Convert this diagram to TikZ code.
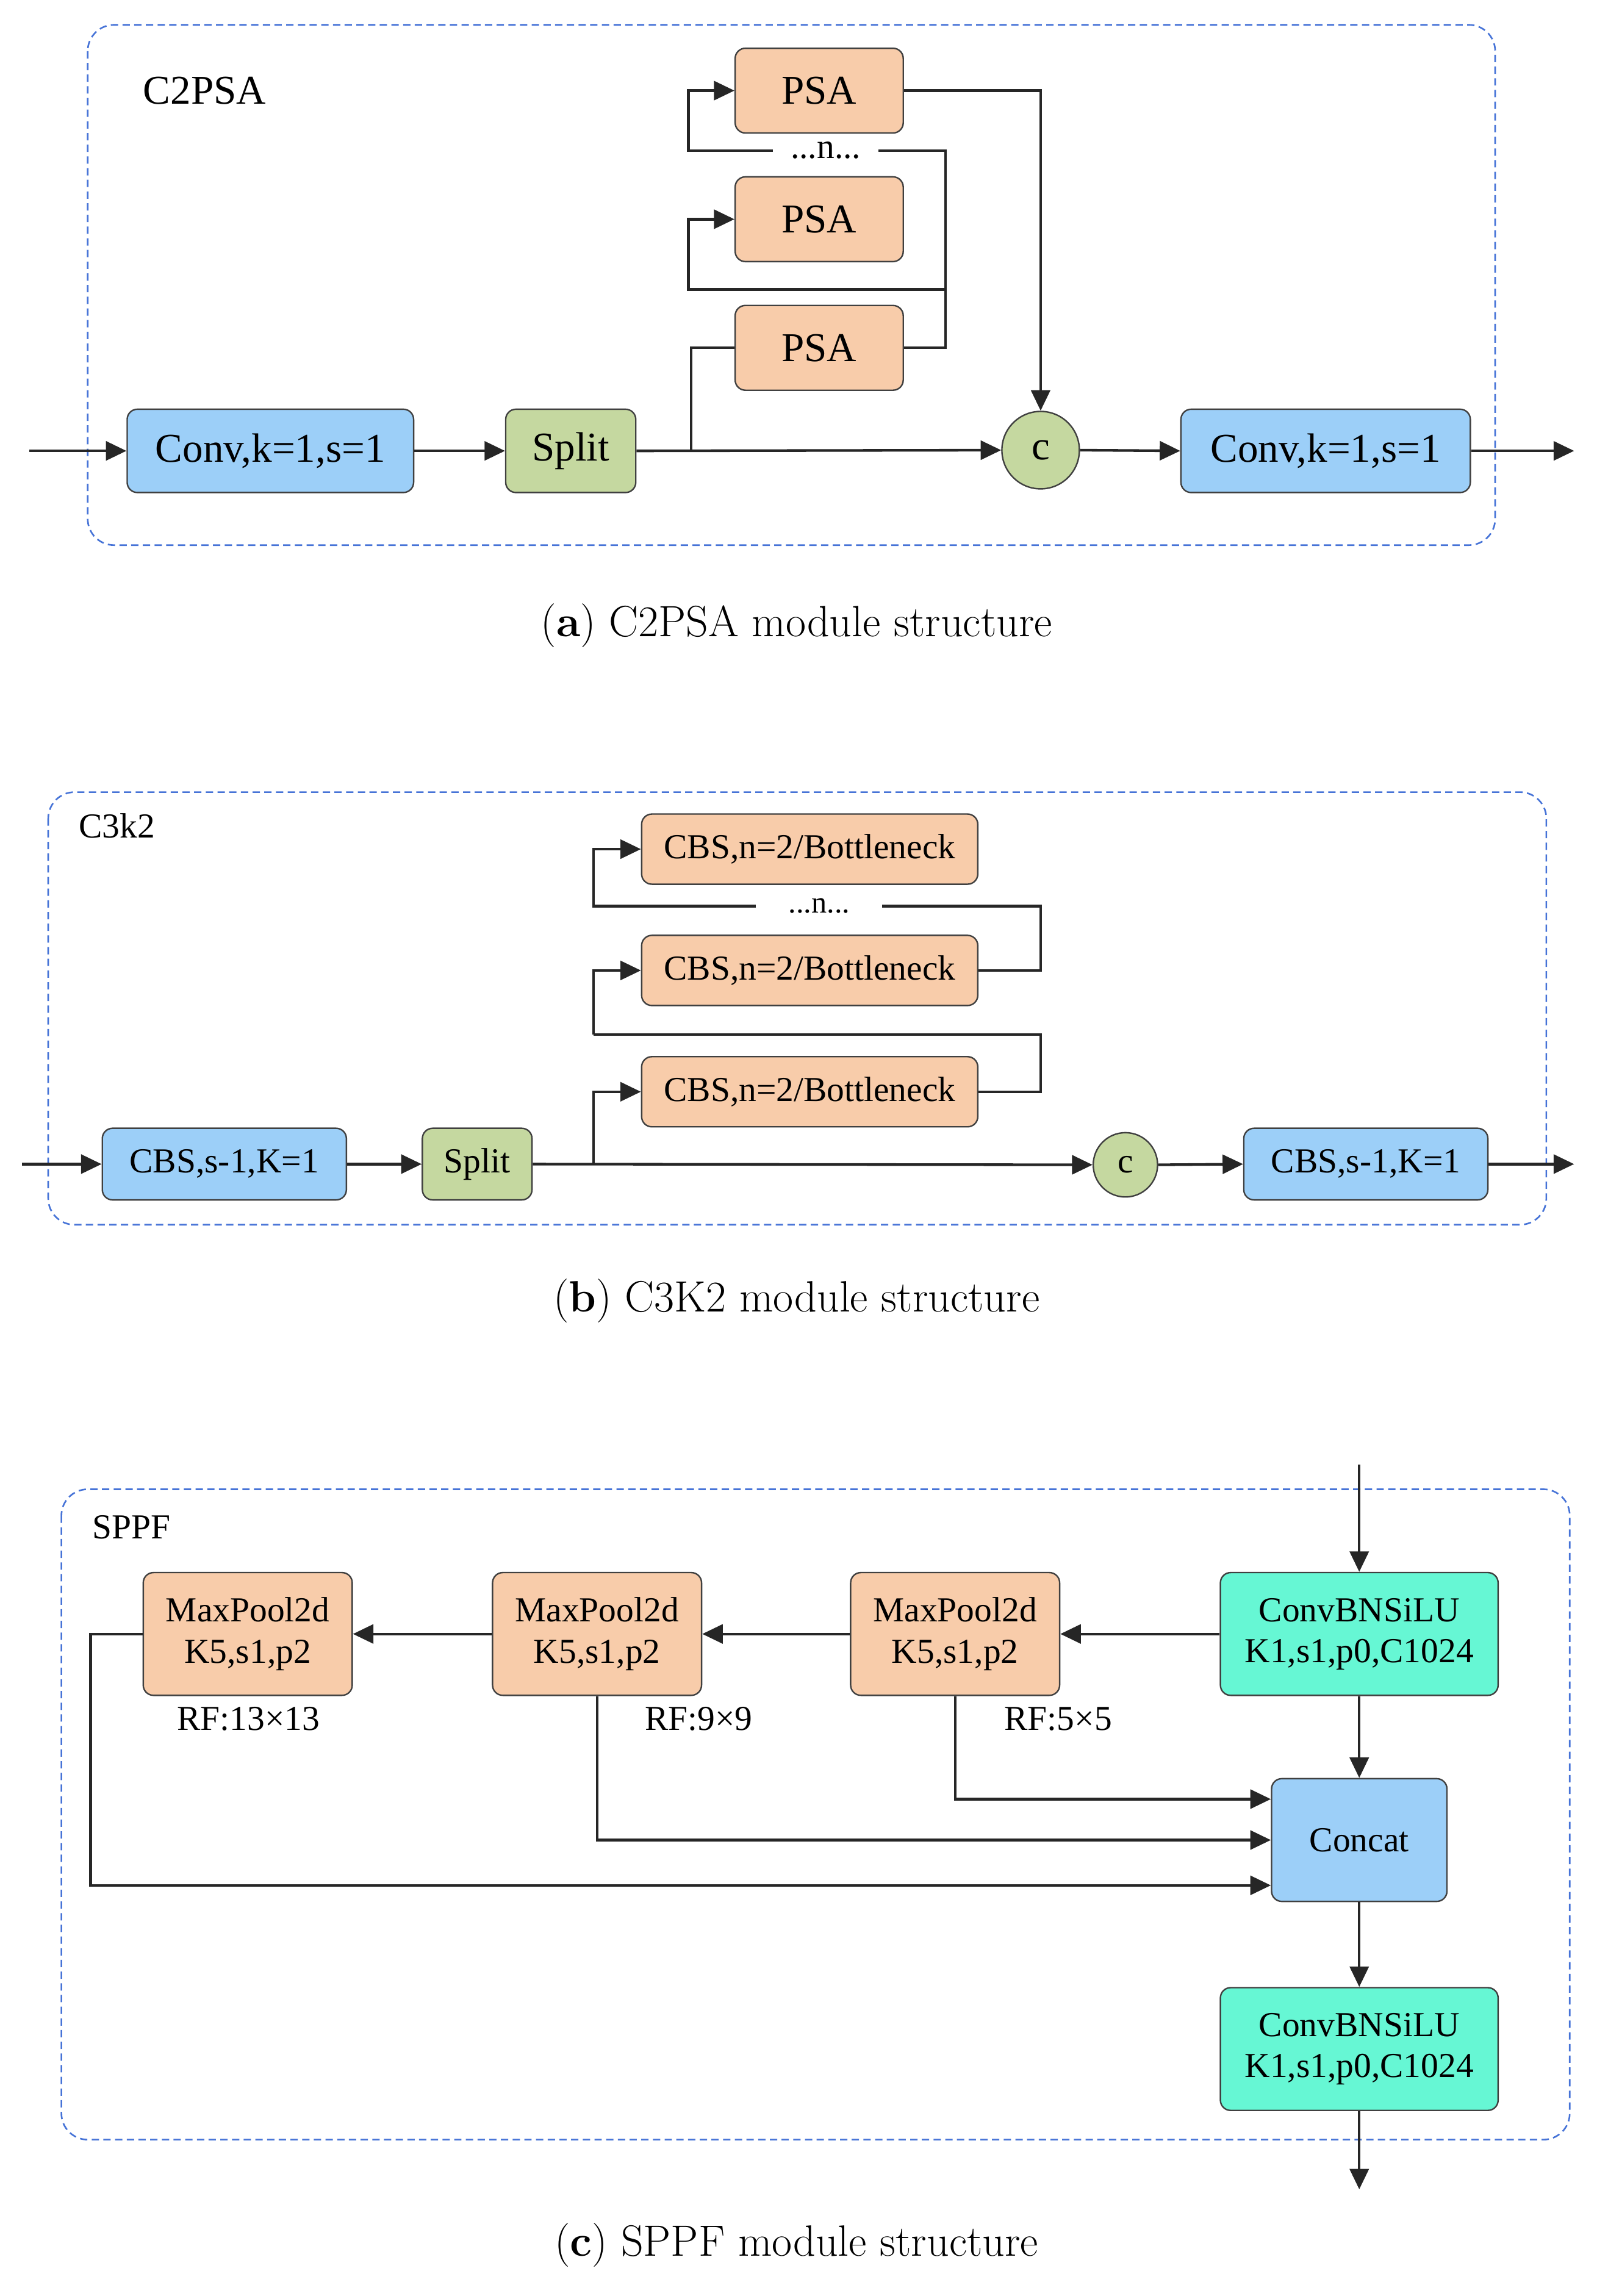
\documentclass[tikz,border=0pt]{standalone}
\usepackage{fontspec}
\setmainfont{Liberation Serif}
\newfontfamily\capfont{Latin Modern Roman}
\usetikzlibrary{arrows.meta,calc}
\definecolor{boxblue}{RGB}{156,207,248}
\definecolor{boxpeach}{RGB}{248,204,170}
\definecolor{boxgreen}{RGB}{197,216,160}
\definecolor{boxteal}{RGB}{102,247,212}
\definecolor{framecol}{RGB}{70,115,215}
\begin{document}
\begin{tikzpicture}[x=1pt,y=-1pt,
  box/.style={draw=black!75,line width=1pt,rounded corners=7pt,inner sep=0pt,align=center},
  bigtxt/.style={font=\fontsize{28}{32}\selectfont},
  smtxt/.style={font=\fontsize{24}{30}\selectfont},
  frame/.style={draw=framecol,dashed,dash pattern=on 5pt off 3pt,line width=1.1pt,rounded corners=18pt},
  conn/.style={draw=black!85,line width=1.8pt},
  arr/.style={conn,-{Triangle[length=14pt,width=13pt]}},
  capt/.style={font=\capfont\fontsize{30}{34}\selectfont},
  lbl/.style={inner sep=0pt}
]
\useasboundingbox (0,0) rectangle (1100,1571);

% ---------------- Panel (a) ----------------
\draw[frame] (60,17) rectangle (1023,373);
\node[lbl,bigtxt] (titA) at (140,62) {C2PSA};
\node[box,bigtxt,fill=boxblue,minimum width=196pt,minimum height=57pt] (conv1) at (185,308.5) {Conv,k=1,s=1};
\node[box,bigtxt,fill=boxgreen,minimum width=89pt,minimum height=57pt] (splitA) at (390.5,308.5) {Split};
\node[box,bigtxt,fill=boxpeach,minimum width=115pt,minimum height=58pt] (psa1) at (560.5,62) {PSA};
\node[box,bigtxt,fill=boxpeach,minimum width=115pt,minimum height=58pt] (psa2) at (560.5,150) {PSA};
\node[box,bigtxt,fill=boxpeach,minimum width=115pt,minimum height=58pt] (psa3) at (560.5,238) {PSA};
\node[draw=black!75,line width=1pt,fill=boxgreen,circle,minimum size=53pt,inner sep=0pt,bigtxt] (cA) at (712,308) {c};
\node[box,bigtxt,fill=boxblue,minimum width=198pt,minimum height=57pt] (conv2) at (907,308.5) {Conv,k=1,s=1};
\node[lbl,font=\fontsize{24}{28}\selectfont,minimum width=72pt,minimum height=20pt] (dotsA) at (565,103) {...n...};
\coordinate (inA) at (20,308.5);
\coordinate (outA) at (1077,308.5);
\coordinate (brA) at (473,308.5);
\coordinate (rA1) at (647,103);
\coordinate (rA2) at (647,198);
\coordinate (lA1) at (471,103);
\coordinate (lA2) at (471,198);

\draw[arr] (inA) -- (conv1.west);
\draw[arr] (conv1) -- (splitA);
\draw[arr] (splitA.east) -- (cA.west);
\draw[conn] (brA) |- (psa3.west);
\draw[conn] (psa3.east) -| (rA1) -- (dotsA.east);
\draw[arr] (dotsA.west) -- (lA1) |- (psa1.west);
\draw[arr] (rA2) -- (lA2) |- (psa2.west);
\draw[arr] (psa1.east) -| (cA.north);
\draw[arr] (cA.east) -- (conv2.west);
\draw[arr] (conv2.east) -- (outA);

\node[capt] (capA) at (545,428) {(\textbf{a}) C2PSA module structure};

% ---------------- Panel (b) ----------------
\draw[frame] (33,542) rectangle (1058,838);
\node[lbl,smtxt] (titB) at (80,565) {C3k2};
\node[box,smtxt,fill=boxblue,minimum width=167pt,minimum height=49pt] (cbs1) at (153.5,796.5) {CBS,s-1,K=1};
\node[box,smtxt,fill=boxgreen,minimum width=75pt,minimum height=49pt] (splitB) at (326.5,796.5) {Split};
\node[box,smtxt,fill=boxpeach,minimum width=230pt,minimum height=48pt] (bn1) at (554,581) {CBS,n=2/Bottleneck};
\node[box,smtxt,fill=boxpeach,minimum width=230pt,minimum height=48pt] (bn2) at (554,664) {CBS,n=2/Bottleneck};
\node[box,smtxt,fill=boxpeach,minimum width=230pt,minimum height=48pt] (bn3) at (554,747) {CBS,n=2/Bottleneck};
\node[draw=black!75,line width=1pt,fill=boxgreen,circle,minimum size=44pt,inner sep=0pt,smtxt] (cB) at (770,797) {c};
\node[box,smtxt,fill=boxblue,minimum width=167pt,minimum height=49pt] (cbs2) at (934.5,796.5) {CBS,s-1,K=1};
\node[lbl,font=\fontsize{21}{24}\selectfont,minimum width=86pt,minimum height=16pt] (dotsB) at (560.5,620) {...n...};
\coordinate (inB) at (15,796.5);
\coordinate (outB) at (1077,796.5);
\coordinate (brB) at (406,796.5);
\coordinate (rB1) at (712,620);
\coordinate (rB2) at (712,708);
\coordinate (lB1) at (406,620);
\coordinate (lB2) at (406,708);

\draw[arr] (inB) -- (cbs1.west);
\draw[arr] (cbs1) -- (splitB);
\draw[arr] (splitB.east) -- (cB.west);
\draw[arr] (brB) |- (bn3.west);
\draw[conn] (bn3.east) -| (rB2) -- (lB2);
\draw[arr] (lB2) |- (bn2.west);
\draw[conn] (bn2.east) -| (rB1) -- (dotsB.east);
\draw[arr] (dotsB.west) -- (lB1) |- (bn1.west);
\draw[arr] (cB.east) -- (cbs2.west);
\draw[arr] (cbs2.east) -- (outB);

\node[capt] (capB) at (545,890) {(\textbf{b}) C3K2 module structure};

% ---------------- Panel (c) ----------------
\draw[frame] (42,1019) rectangle (1074,1464);
\node[lbl,smtxt] (titC) at (90,1045) {SPPF};
\node[box,smtxt,fill=boxpeach,minimum width=143pt,minimum height=84pt] (mp1) at (169.5,1118) {MaxPool2d\\[-2pt]K5,s1,p2};
\node[box,smtxt,fill=boxpeach,minimum width=143pt,minimum height=84pt] (mp2) at (408.5,1118) {MaxPool2d\\[-2pt]K5,s1,p2};
\node[box,smtxt,fill=boxpeach,minimum width=143pt,minimum height=84pt] (mp3) at (653.5,1118) {MaxPool2d\\[-2pt]K5,s1,p2};
\node[box,smtxt,fill=boxteal,minimum width=190pt,minimum height=84pt] (cb1) at (930,1118) {ConvBNSiLU\\[-2pt]K1,s1,p0,C1024};
\node[box,smtxt,fill=boxblue,minimum width=120pt,minimum height=84pt] (concat) at (930,1259) {Concat};
\node[box,smtxt,fill=boxteal,minimum width=190pt,minimum height=84pt] (cb2) at (930,1402) {ConvBNSiLU\\[-2pt]K1,s1,p0,C1024};
\node[lbl,smtxt] (rf1) at (170,1176) {RF:13×13};
\node[lbl,smtxt] (rf2) at (478,1176) {RF:9×9};
\node[lbl,smtxt] (rf3) at (724,1176) {RF:5×5};
\coordinate (inC) at (930,1002);
\coordinate (outC) at (930,1498);
\coordinate (lC) at (62,1118);

\draw[arr] (inC) -- (cb1.north);
\draw[arr] (cb1.west) -- (mp3.east);
\draw[arr] (mp3.west) -- (mp2.east);
\draw[arr] (mp2.west) -- (mp1.east);
\draw[arr] (mp3.south) |- ([yshift=28pt]concat.west);
\draw[arr] (mp2.south) |- (concat.west);
\draw[arr] (mp1.west) -- (lC) |- ([yshift=-31pt]concat.west);
\draw[arr] (cb1.south) -- (concat.north);
\draw[arr] (concat.south) -- (cb2.north);
\draw[arr] (cb2.south) -- (outC);

\node[capt] (capC) at (545,1536) {(\textbf{c}) SPPF module structure};
\end{tikzpicture}
\end{document}
